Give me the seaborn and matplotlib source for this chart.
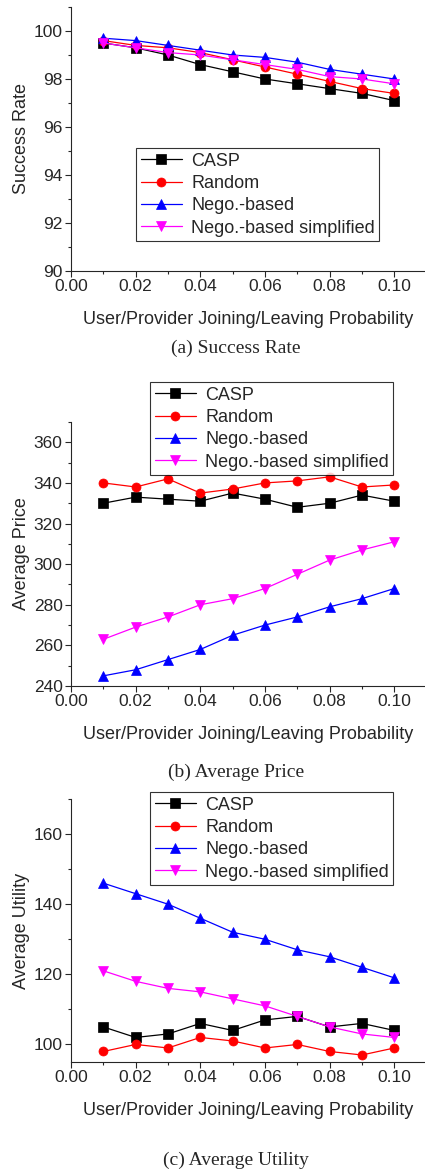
import matplotlib
matplotlib.use('Agg')
import matplotlib.pyplot as plt
import seaborn as sns
import pandas as pd
from matplotlib.ticker import MultipleLocator

# data
prob = [0.01, 0.02, 0.03, 0.04, 0.05, 0.06, 0.07, 0.08, 0.09, 0.10]
methods = ['CASP', 'Random', 'Nego.-based', 'Nego.-based simplified']

success_casp = [99.5, 99.3, 99.0, 98.6, 98.3, 98.0, 97.8, 97.6, 97.4, 97.1]
success_random = [99.6, 99.4, 99.3, 99.1, 98.8, 98.5, 98.2, 97.9, 97.6, 97.4]
success_nego = [99.7, 99.6, 99.4, 99.2, 99.0, 98.9, 98.7, 98.4, 98.2, 98.0]
success_simp = [99.5, 99.3, 99.1, 99.0, 98.8, 98.6, 98.4, 98.1, 98.0, 97.8]

price_casp = [330, 333, 332, 331, 335, 332, 328, 330, 334, 331]
price_random = [340, 338, 342, 335, 337, 340, 341, 343, 338, 339]
price_nego = [245, 248, 253, 258, 265, 270, 274, 279, 283, 288]
price_simp = [263, 269, 274, 280, 283, 288, 295, 302, 307, 311]

utility_casp = [105, 102, 103, 106, 104, 107, 108, 105, 106, 104]
utility_random = [98, 100, 99, 102, 101, 99, 100, 98, 97, 99]
utility_nego = [146, 143, 140, 136, 132, 130, 127, 125, 122, 119]
utility_simp = [121, 118, 116, 115, 113, 111, 108, 105, 103, 102]

colors = ['black', 'red', 'blue', 'magenta']
markers = ['s', 'o', '^', 'v']

sns.set_style('ticks')
plt.rcParams['font.family'] = ['Liberation Sans', 'DejaVu Sans']
plt.rcParams['font.size'] = 12.5

W, H = 425, 1172
fig = plt.figure(figsize=(W / 100, H / 100), dpi=100)


def px_axes(left, top, right, bottom):
    return fig.add_axes([left / W, 1 - bottom / H, (right - left) / W, (bottom - top) / H])


def draw_panel(ax, series, ylabel, ylim, ymajor, yminor, legend_xy, caption, caption_y):
    for name, vals, c, m in zip(methods, series, colors, markers):
        df = pd.DataFrame({'x': prob, 'y': vals})
        sns.lineplot(data=df, x='x', y='y', ax=ax, color=c, marker=m,
                     markersize=7 if m in ('^', 'v') else 6.5,
                     markeredgecolor=c, markeredgewidth=0.5,
                     linewidth=0.9, label=name)
    ax.set_xlim(0, 0.1095)
    ax.set_ylim(*ylim)
    ax.xaxis.set_major_locator(MultipleLocator(0.02))
    ax.xaxis.set_minor_locator(MultipleLocator(0.01))
    ax.yaxis.set_major_locator(MultipleLocator(ymajor))
    ax.yaxis.set_minor_locator(MultipleLocator(yminor))
    ax.xaxis.set_major_formatter(plt.FormatStrFormatter('%.2f'))
    ax.tick_params(which='major', direction='out', length=4, width=0.8, labelsize=12.5, pad=2)
    ax.tick_params(which='minor', direction='out', length=2.5, width=0.8)
    sns.despine(ax=ax)
    for s in ('left', 'bottom'):
        ax.spines[s].set_linewidth(0.8)
    ax.set_xlabel('User/Provider Joining/Leaving Probability', fontsize=13, labelpad=12)
    ax.set_ylabel(ylabel, fontsize=13, labelpad=3)
    handles, labels = ax.get_legend_handles_labels()
    leg = ax.legend(handles, labels, loc='upper left',
                    bbox_to_anchor=(legend_xy[0] / W, 1 - legend_xy[1] / H),
                    bbox_transform=fig.transFigure, fontsize=13, frameon=True,
                    fancybox=False, handlelength=2.3, handletextpad=0.5,
                    labelspacing=0.3, borderpad=0.25, borderaxespad=0)
    leg.get_frame().set_edgecolor('black')
    leg.get_frame().set_linewidth(0.8)
    fig.text(236 / W, 1 - caption_y / H, caption, ha='center', va='center',
             fontsize=14, family=['Liberation Serif', 'DejaVu Serif'])


ax1 = px_axes(71, 7, 425, 271)
draw_panel(ax1, [success_casp, success_random, success_nego, success_simp],
           'Success Rate', (90, 101), 2, 1, (136, 148), '(a) Success Rate', 348)

ax2 = px_axes(71, 422, 425, 686)
draw_panel(ax2, [price_casp, price_random, price_nego, price_simp],
           'Average Price', (240, 370), 20, 10, (150, 382), '(b) Average Price', 772)

ax3 = px_axes(71, 799, 425, 1062)
draw_panel(ax3, [utility_casp, utility_random, utility_nego, utility_simp],
           'Average Utility', (95, 170), 20, 10, (150, 792), '(c) Average Utility', 1160)

fig.savefig('out.png', dpi=100)
